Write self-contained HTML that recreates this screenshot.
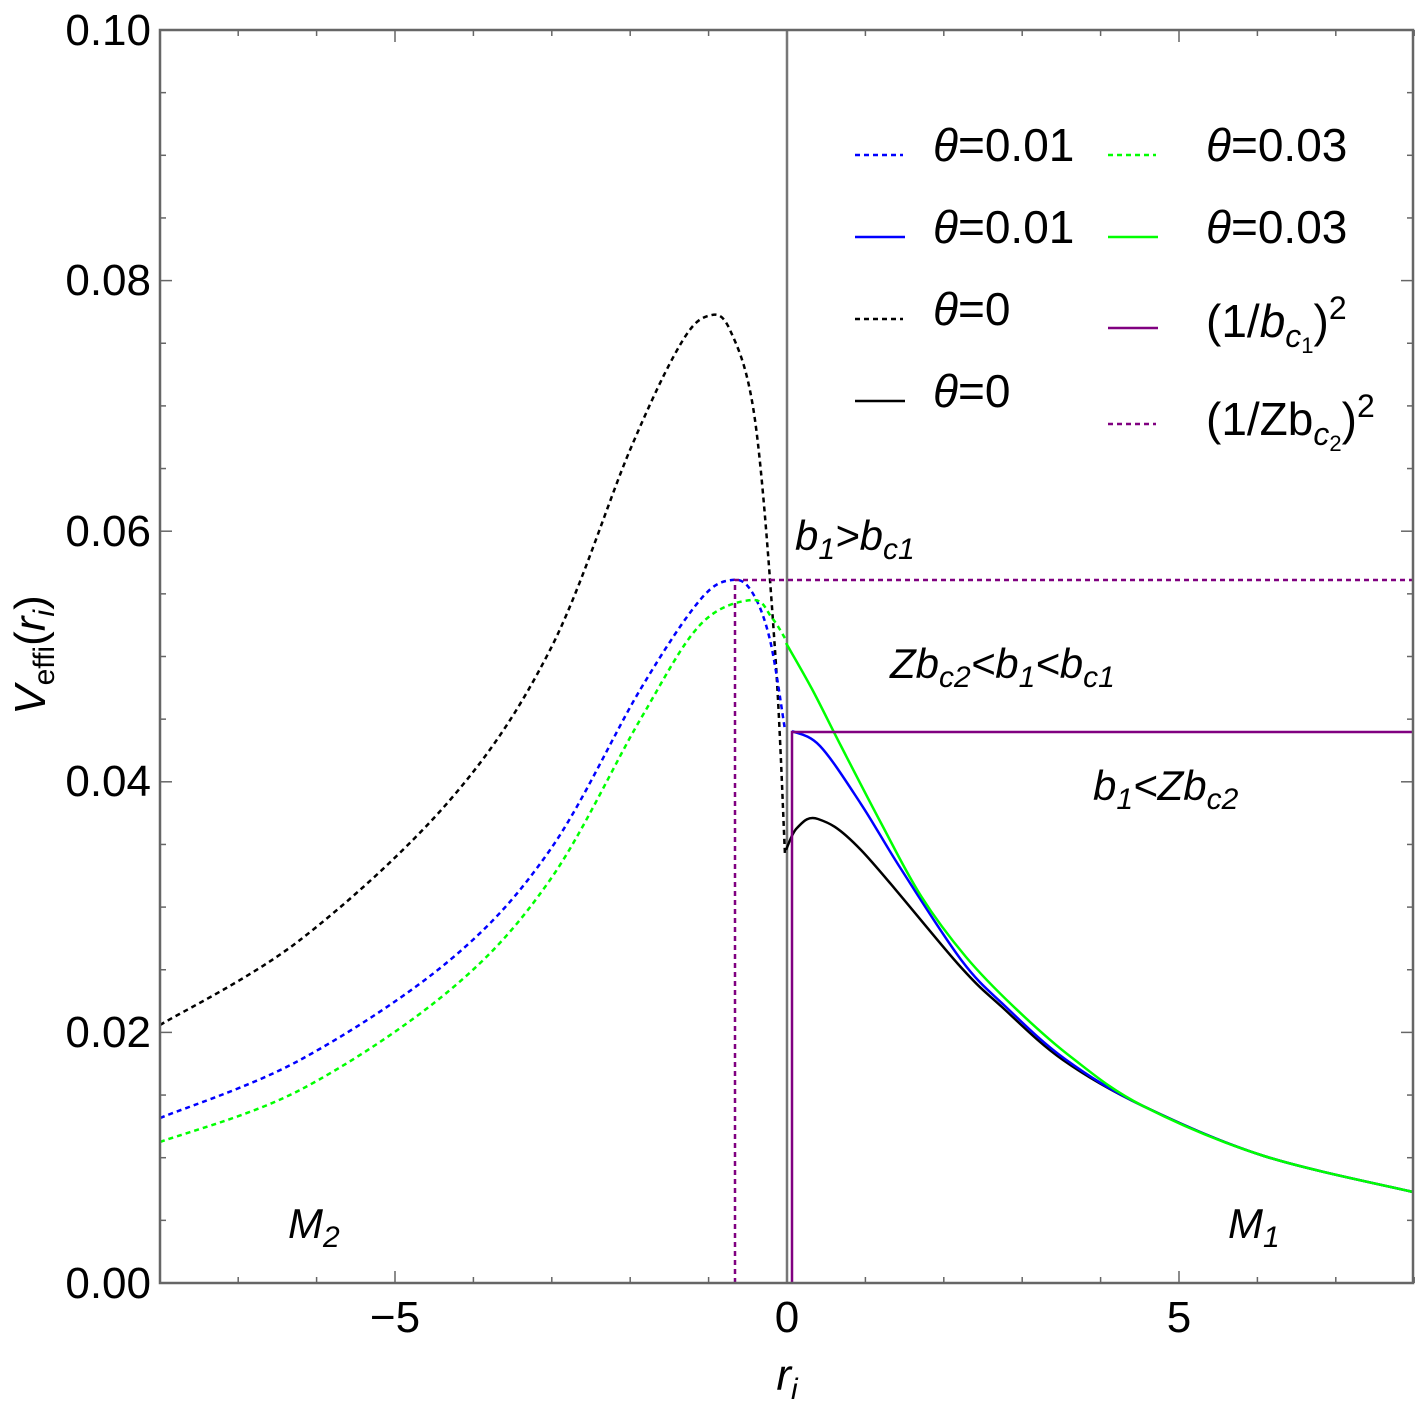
<!DOCTYPE html>
<html><head><meta charset="utf-8"><style>
html,body{margin:0;padding:0;background:#fff;}
svg text{font-family:"Liberation Sans",sans-serif;}
</style></head><body>
<svg id="s" width="1417" height="1405" xmlns="http://www.w3.org/2000/svg">
<rect x="0" y="0" width="1417" height="1405" fill="#fff"/>
<g id="ticks" stroke="#666" stroke-width="1.5"></g>
<line x1="787" y1="30" x2="787" y2="1283" stroke="#777" stroke-width="2.5"/>
<g fill="none" stroke-width="2.5">
<path id="bd" stroke="#000" stroke-dasharray="5,4"/>
<path id="ud" stroke="#00f" stroke-dasharray="5,4"/>
<path id="gd" stroke="#0f0" stroke-dasharray="5,4"/>
<path id="ks" stroke="#000"/>
<path id="us" stroke="#00f"/>
<path id="gs" stroke="#0f0"/>
<polyline points="735,1283 735,580 1413,580" stroke="#800080" stroke-dasharray="5,4"/>
<polyline points="792,1283 792,732 1413,732" stroke="#800080"/>
</g>
<rect x="160" y="30" width="1253" height="1253" fill="none" stroke="#666" stroke-width="2.5"/>
<g font-size="44" fill="#000" text-anchor="end">
<text x="151" y="1298">0.00</text><text x="151" y="1047">0.02</text><text x="151" y="796">0.04</text>
<text x="151" y="546">0.06</text><text x="151" y="295">0.08</text><text x="151" y="45">0.10</text>
</g>
<g font-size="44" fill="#000" text-anchor="middle">
<text x="395" y="1332">−5</text><text x="787" y="1332">0</text><text x="1179" y="1332">5</text>
<text x="787" y="1390" font-style="italic">r<tspan font-size="30" dy="9">i</tspan></text>
</g>
<text transform="translate(45,655) rotate(-90)" font-size="44" text-anchor="middle"><tspan font-style="italic">V</tspan><tspan font-size="30" dy="9">effi</tspan><tspan dy="-9">(</tspan><tspan font-style="italic">r</tspan><tspan font-size="30" dy="9" font-style="italic">i</tspan><tspan dy="-9">)</tspan></text>
<g font-size="42" font-style="italic">
<text x="795" y="550">b<tspan font-size="30" dy="9">1</tspan><tspan dy="-9">&gt;b</tspan><tspan font-size="30" dy="9">c1</tspan></text>
<text x="890" y="678">Zb<tspan font-size="30" dy="9">c2</tspan><tspan dy="-9">&lt;b</tspan><tspan font-size="30" dy="9">1</tspan><tspan dy="-9">&lt;b</tspan><tspan font-size="30" dy="9">c1</tspan></text>
<text x="1093" y="800">b<tspan font-size="30" dy="9">1</tspan><tspan dy="-9">&lt;Zb</tspan><tspan font-size="30" dy="9">c2</tspan></text>
<text x="288" y="1238">M<tspan font-size="30" dy="9">2</tspan></text>
<text x="1228" y="1238">M<tspan font-size="30" dy="9">1</tspan></text>
</g>
<g stroke-width="2.5">
<line x1="855" y1="155" x2="903" y2="155" stroke="#00f" stroke-dasharray="5,4"/>
<line x1="855" y1="237" x2="905" y2="237" stroke="#00f"/>
<line x1="855" y1="319" x2="903" y2="319" stroke="#000" stroke-dasharray="5,4"/>
<line x1="855" y1="401" x2="905" y2="401" stroke="#000"/>
<line x1="1108" y1="155" x2="1156" y2="155" stroke="#0f0" stroke-dasharray="5,4"/>
<line x1="1108" y1="237" x2="1158" y2="237" stroke="#0f0"/>
<line x1="1108" y1="328" x2="1158" y2="328" stroke="#800080"/>
<line x1="1108" y1="424" x2="1156" y2="424" stroke="#800080" stroke-dasharray="5,4"/>
</g>
<g font-size="46">
<text x="933" y="161"><tspan font-style="italic">θ</tspan>=0.01</text>
<text x="933" y="243"><tspan font-style="italic">θ</tspan>=0.01</text>
<text x="933" y="325"><tspan font-style="italic">θ</tspan>=0</text>
<text x="933" y="407"><tspan font-style="italic">θ</tspan>=0</text>
<text x="1206" y="161"><tspan font-style="italic">θ</tspan>=0.03</text>
<text x="1206" y="243"><tspan font-style="italic">θ</tspan>=0.03</text>
<text x="1206" y="337">(1/<tspan font-style="italic">b</tspan><tspan font-size="32" font-style="italic" dy="10">c</tspan><tspan font-size="22" dy="6">1</tspan><tspan dy="-16">)</tspan><tspan font-size="32" dy="-18">2</tspan></text>
<text x="1206" y="435">(1/Zb<tspan font-size="32" font-style="italic" dy="10">c</tspan><tspan font-size="22" dy="6">2</tspan><tspan dy="-16">)</tspan><tspan font-size="32" dy="-18">2</tspan></text>
</g>
</svg>
<script>
function cr(p){var d="M"+p[0][0]+","+p[0][1];for(var i=0;i<p.length-1;i++){var p0=p[i-1]||p[i],p1=p[i],p2=p[i+1],p3=p[i+2]||p2;
d+=" C"+(p1[0]+(p2[0]-p0[0])/6)+","+(p1[1]+(p2[1]-p0[1])/6)+" "+(p2[0]-(p3[0]-p1[0])/6)+","+(p2[1]-(p3[1]-p1[1])/6)+" "+p2[0]+","+p2[1];}return d;}
var tail=[[1143,1106],[1264,1156],[1413,1192]];
var D={
bd:[[160,1025],[300,940],[450,800],[550,650],[630,450],[680,345],[708,316],[730,330],[755,420],[775,650],[785,855]],
ud:[[160,1118],[300,1060],[450,960],[550,850],[640,690],[700,600],[732,580],[752,592],[770,640],[785,730]],
gd:[[160,1142],[300,1090],[450,990],[550,880],[640,720],[700,625],[752,600],[772,618],[786,640]],
gs:[[786,643],[812,689],[841,746],[881,823],[921,896],[966,957],[1014,1007],[1071,1057]].concat(tail),
us:[[792,731],[820,746],[861,804],[901,869],[962,961],[1006,1007],[1065,1059]].concat(tail),
ks:[[786,850],[797,828],[818,819],[861,850],[958,964],[1002,1007],[1063,1060]].concat(tail)};
for(var k in D)document.getElementById(k).setAttribute("d",cr(D[k]));
var t="",g=document.getElementById("ticks");
for(var x=-8;x<=8;x++){var px=787+x*78.4,L=(x%5==0)?12:6;t+='<line x1="'+px+'" y1="1283" x2="'+px+'" y2="'+(1283-L)+'"/><line x1="'+px+'" y1="30" x2="'+px+'" y2="'+(30+L)+'"/>';}
for(var i=0;i<=20;i++){var py=1283-i*62.65,L=(i%4==0)?12:6;t+='<line x1="160" y1="'+py+'" x2="'+(160+L)+'" y2="'+py+'"/><line x1="1413" y1="'+py+'" x2="'+(1413-L)+'" y2="'+py+'"/>';}
g.innerHTML=t;
</script>
</body></html>
